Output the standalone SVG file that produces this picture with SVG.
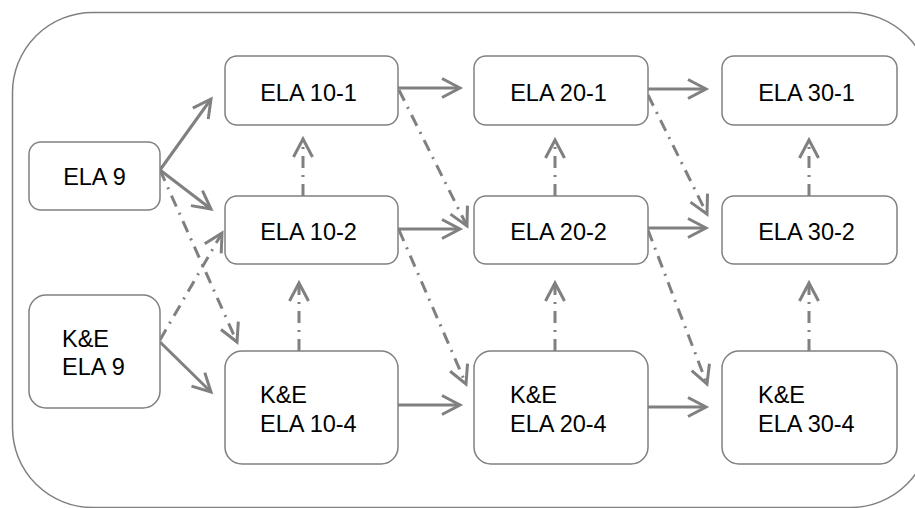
<svg xmlns="http://www.w3.org/2000/svg" width="915" height="508" viewBox="0 0 915 508">
<style>
.frame{fill:none;stroke:#808080;stroke-width:1.5}
.box{fill:#fff;stroke:#808080;stroke-width:1.5}
.t{font-family:"Liberation Sans",Arial,sans-serif;font-size:23.5px;fill:#000}
.c{text-anchor:middle}
.s{fill:none;stroke:#808080;stroke-width:3;marker-end:url(#ah)}
.d{fill:none;stroke:#808080;stroke-width:3;stroke-dasharray:12 7 2 7;marker-end:url(#ah)}
</style>
<defs>
<marker id="ah" markerUnits="userSpaceOnUse" markerWidth="30" markerHeight="30" viewBox="-25 -15 30 30" refX="0" refY="0" orient="auto" overflow="visible">
<path d="M-18,-9.5 L0,0 L-18,9.5" fill="none" stroke="#808080" stroke-width="3" stroke-dasharray="none" stroke-linejoin="miter"/>
</marker>
</defs>
<rect class="frame" x="12.5" y="12.5" width="918" height="495" rx="80" ry="80"/>
<g id="connectors">
<line class="s" x1="160" y1="170" x2="211" y2="99"/>
<line class="s" x1="160" y1="170" x2="211" y2="209"/>
<line class="s" x1="160" y1="342" x2="211" y2="392"/>
<line class="s" x1="398" y1="88" x2="460" y2="88"/>
<line class="s" x1="398" y1="229" x2="460" y2="229"/>
<line class="s" x1="398" y1="405" x2="460" y2="405"/>
<line class="s" x1="648" y1="89" x2="706" y2="89"/>
<line class="s" x1="648" y1="228" x2="706" y2="228"/>
<line class="s" x1="648" y1="407" x2="706" y2="407"/>
<line class="d" x1="303" y1="196" x2="303" y2="139"/>
<line class="d" x1="299" y1="351" x2="299" y2="283"/>
<line class="d" x1="555" y1="196" x2="555" y2="140"/>
<line class="d" x1="555" y1="351" x2="555" y2="283"/>
<line class="d" x1="809" y1="196" x2="809" y2="140"/>
<line class="d" x1="809" y1="351" x2="809" y2="283"/>
<line class="d" x1="160" y1="170" x2="237" y2="342"/>
<line class="d" x1="160" y1="340" x2="222" y2="233"/>
<line class="d" x1="399" y1="90" x2="467" y2="226"/>
<line class="d" x1="399" y1="230" x2="466" y2="384"/>
<line class="d" x1="648" y1="95" x2="707" y2="214"/>
<line class="d" x1="648" y1="230" x2="707" y2="384"/>
</g>
<g id="ela9"><rect class="box" x="29" y="142" width="131" height="68" rx="12"/><text class="t c" x="94.5" y="185">ELA 9</text></g>
<g id="ke-ela9"><rect class="box" x="29" y="295" width="131" height="113" rx="17"/><text class="t" x="62" y="347">K&amp;E</text><text class="t" x="62" y="375">ELA 9</text></g>
<g id="ela10-1"><rect class="box" x="225" y="56" width="173" height="69" rx="12"/><text class="t c" x="308.5" y="101">ELA 10-1</text></g>
<g id="ela10-2"><rect class="box" x="225" y="196" width="173" height="68" rx="12"/><text class="t c" x="308.5" y="240">ELA 10-2</text></g>
<g id="ke-ela10-4"><rect class="box" x="225" y="351" width="173" height="113" rx="17"/><text class="t" x="260" y="403">K&amp;E</text><text class="t" x="260" y="432">ELA 10-4</text></g>
<g id="ela20-1"><rect class="box" x="474" y="56" width="174" height="69" rx="12"/><text class="t c" x="558.5" y="101">ELA 20-1</text></g>
<g id="ela20-2"><rect class="box" x="474" y="196" width="174" height="68" rx="12"/><text class="t c" x="558.5" y="240">ELA 20-2</text></g>
<g id="ke-ela20-4"><rect class="box" x="474" y="351" width="174" height="113" rx="17"/><text class="t" x="510" y="403">K&amp;E</text><text class="t" x="510" y="432">ELA 20-4</text></g>
<g id="ela30-1"><rect class="box" x="722" y="56" width="175" height="69" rx="12"/><text class="t c" x="806.5" y="101">ELA 30-1</text></g>
<g id="ela30-2"><rect class="box" x="722" y="196" width="175" height="68" rx="12"/><text class="t c" x="806.5" y="240">ELA 30-2</text></g>
<g id="ke-ela30-4"><rect class="box" x="722" y="351" width="175" height="113" rx="17"/><text class="t" x="758" y="403">K&amp;E</text><text class="t" x="758" y="432">ELA 30-4</text></g>
</svg>
